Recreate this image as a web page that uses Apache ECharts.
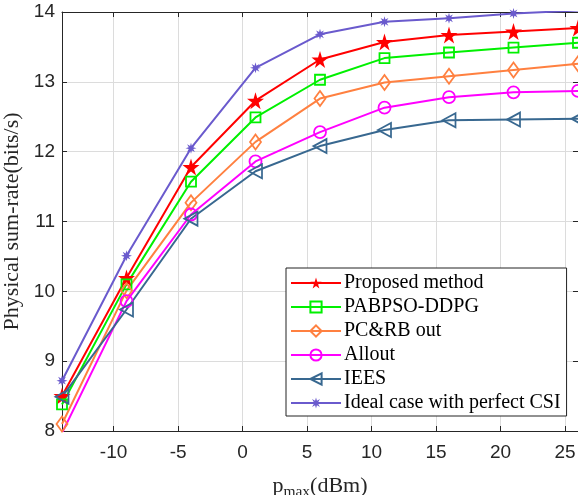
<!DOCTYPE html>
<html>
<head>
<meta charset="utf-8">
<script src="https://cdn.jsdelivr.net/npm/echarts@6/dist/echarts.min.js"></script>
<style>
  html, body { margin: 0; padding: 0; background: #fff; }
  #chart { width: 578px; height: 495px; }
</style>
</head>
<body>
<div id="chart"></div>
<script>
// Transmit power levels (dBm)
const pmax = [-14, -9, -4, 1, 6, 11, 16, 21, 26];
const xTicks = [-10, -5, 0, 5, 10, 15, 20, 25];

// Physical sum-rate (bits/s) per scheme
const proposed = [8.50, 10.19, 11.78, 12.73, 13.32, 13.57, 13.67, 13.72, 13.77];
const pabpso   = [8.38, 10.10, 11.57, 12.49, 13.03, 13.34, 13.42, 13.49, 13.56];
const pcrbOut  = [8.10, 10.01, 11.27, 12.14, 12.76, 12.99, 13.08, 13.17, 13.26];
const allout   = [7.97,  9.86, 11.10, 11.86, 12.28, 12.63, 12.78, 12.85, 12.87];
const iees     = [8.49,  9.74, 11.04, 11.72, 12.08, 12.31, 12.45, 12.46, 12.47];
const ideal    = [8.72, 10.51, 12.05, 13.20, 13.68, 13.86, 13.91, 13.98, 14.02];

const names = ['Proposed method', 'PABPSO-DDPG', 'PC&RB out', 'Allout', 'IEES', 'Ideal case with perfect CSI'];

const STAR = 'path://M50,0 L61,35 L98,35 L68,57 L79,91 L50,70 L21,91 L32,57 L2,35 L39,35 Z';
const ASTERISK = 'path://M100,50 L70.3,58.4 L85.4,85.4 L58.4,70.3 L50,100 L41.6,70.3 L14.6,85.4 L29.7,58.4 L0,50 L29.7,41.6 L14.6,14.6 L41.6,29.7 L50,0 L58.4,29.7 L85.4,14.6 L70.3,41.6 Z';
const LEFT_TRI = 'path://M0,50 L90,0 L90,100 Z';

const serif = '"Liberation Serif", "Times New Roman", serif';
const sans = '"Liberation Sans", Arial, sans-serif';
const ink = '#262626';

function pairs(ys) { return pmax.map((x, i) => [x, ys[i]]); }

function lineSeries(name, ys, color, symbol, size, hollow) {
  return {
    name: name,
    type: 'line',
    data: pairs(ys),
    symbol: symbol,
    symbolSize: size,
    showAllSymbol: true,
    lineStyle: { color: color, width: 2 },
    itemStyle: hollow
      ? { color: 'rgba(255,255,255,0)', borderColor: color, borderWidth: 1.8 }
      : { color: color, borderColor: color, borderWidth: 0 },
    emphasis: { disabled: true },
    animation: false,
    z: 3
  };
}

const chart = echarts.init(document.getElementById('chart'), null, { renderer: 'canvas' });

const option = {
  backgroundColor: '#fff',
  animation: false,
  grid: { left: 62, top: 12, right: 0, bottom: 64, containLabel: false, outerBoundsMode: 'none' },
  legend: {
    orient: 'vertical',
    left: 286,
    top: 268,
    width: 277,
    padding: [5, 6, 3, 4],
    itemGap: 4,
    itemWidth: 50,
    itemHeight: 14,
    backgroundColor: '#fff',
    borderColor: '#222',
    borderWidth: 1,
    borderRadius: 0,
    textStyle: { fontFamily: serif, fontSize: 20, lineHeight: 20, color: '#000', padding: [0, 0, 0, -2] },
    data: names
  },
  xAxis: [{
    type: 'value',
    min: -14,
    max: 26,
    name: '{p|p}{sub|max}{p|(dBm)}',
    nameLocation: 'middle',
    nameGap: 44,
    nameTextStyle: {
      rich: {
        p: { fontFamily: serif, fontSize: 22, color: ink, lineHeight: 22, verticalAlign: 'top' },
        sub: { fontFamily: serif, fontSize: 15.5, color: ink, lineHeight: 34, verticalAlign: 'middle' }
      }
    },
    axisLine: { onZero: false, lineStyle: { color: ink, width: 1 } },
    axisTick: { inside: true, length: 5, customValues: xTicks, lineStyle: { color: ink } },
    axisLabel: { customValues: xTicks, fontFamily: sans, fontSize: 19, color: ink, margin: 12 },
    splitLine: { show: true, lineStyle: { color: '#dcdcdc', width: 1 } }
  }, {
    type: 'value',
    position: 'top',
    min: -14,
    max: 26,
    axisLine: { onZero: false, lineStyle: { color: ink, width: 1 } },
    axisTick: { inside: true, length: 5, customValues: xTicks, lineStyle: { color: ink } },
    axisLabel: { show: false },
    splitLine: { show: false }
  }],
  yAxis: [{
    type: 'value',
    min: 8,
    max: 14,
    interval: 1,
    name: 'Physical sum-rate(bits/s)',
    nameLocation: 'middle',
    nameGap: 35,
    nameTextStyle: { fontFamily: serif, fontSize: 22, color: ink },
    axisLine: { onZero: false, lineStyle: { color: ink, width: 1 } },
    axisTick: { inside: true, length: 5, lineStyle: { color: ink } },
    axisLabel: { fontFamily: sans, fontSize: 19, color: ink, margin: 7 },
    splitLine: { show: true, lineStyle: { color: '#dcdcdc', width: 1 } }
  }, {
    type: 'value',
    position: 'right',
    min: 8,
    max: 14,
    interval: 1,
    axisLine: { onZero: false, lineStyle: { color: ink, width: 1 } },
    axisTick: { inside: true, length: 5, lineStyle: { color: ink } },
    axisLabel: { show: false },
    splitLine: { show: false }
  }],
  series: [
    lineSeries(names[0], proposed, '#ff0000', STAR, 17, false),
    lineSeries(names[1], pabpso, '#00f000', 'rect', 10, true),
    lineSeries(names[2], pcrbOut, '#ff8040', 'diamond', [11, 15], true),
    lineSeries(names[3], allout, '#ff00ff', 'circle', 12, true),
    lineSeries(names[4], iees, '#386890', LEFT_TRI, [13, 14], true),
    lineSeries(names[5], ideal, '#6a5acd', ASTERISK, 11, false)
  ]
};

chart.setOption(option);
</script>
</body>
</html>
